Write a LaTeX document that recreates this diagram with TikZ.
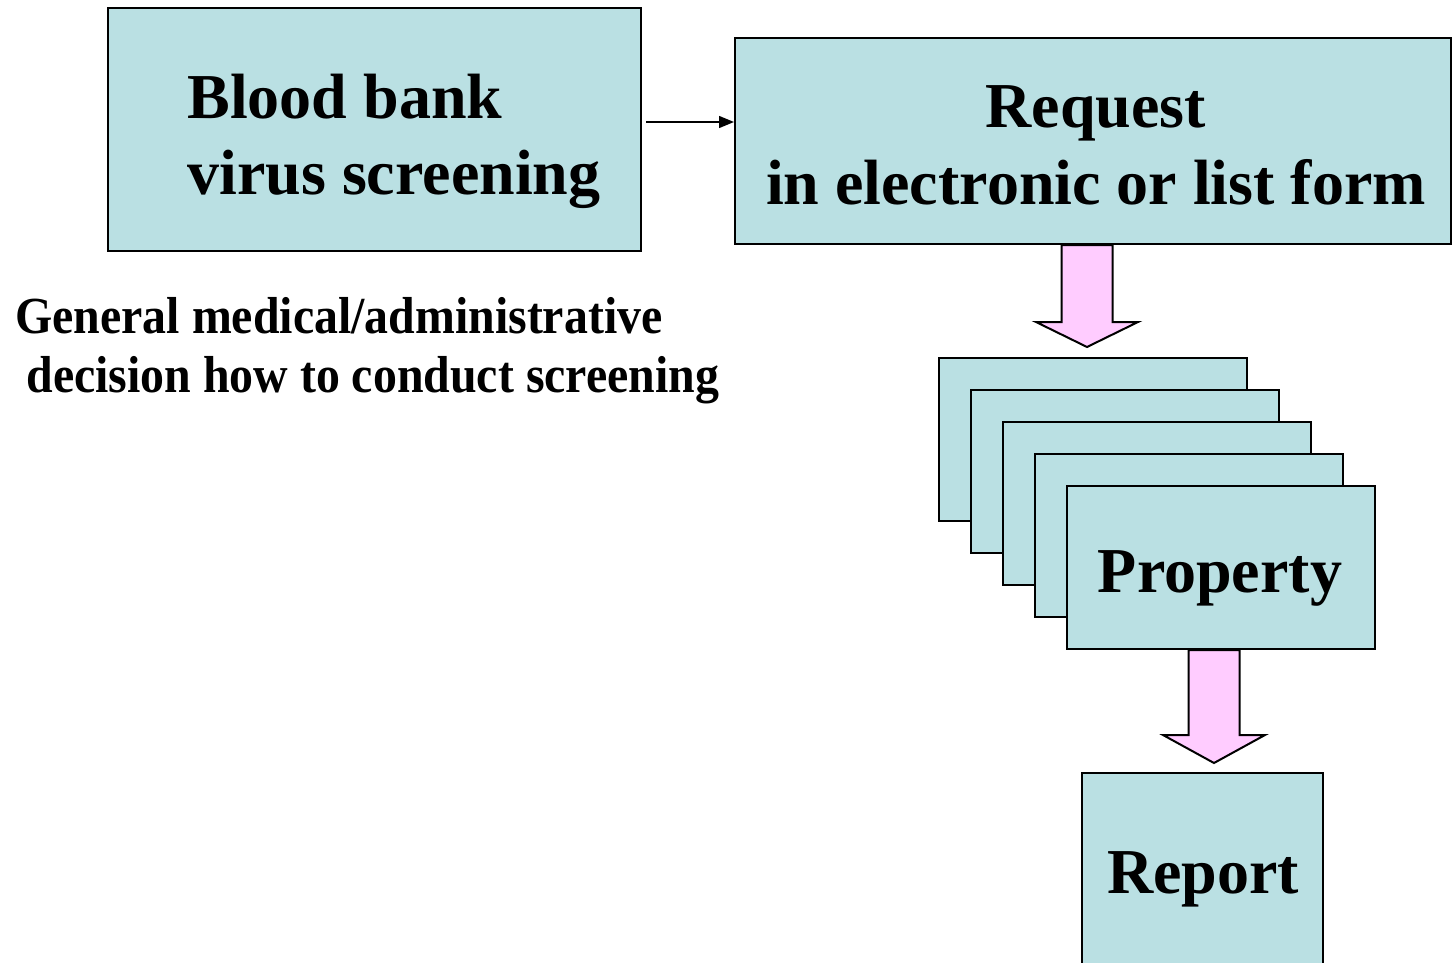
\documentclass[tikz,border=0pt]{standalone}
\usepackage{fontspec}
\setmainfont{Liberation Serif}
\usetikzlibrary{positioning,arrows.meta}
\definecolor{boxblue}{HTML}{BAE0E3}
\definecolor{arrowpink}{HTML}{FFCCFF}
\tikzset{
  box/.style={draw, fill=boxblue, line width=1pt, inner sep=0pt},
  bigtext/.style={font=\fontsize{32}{38.5}\selectfont\bfseries, inner sep=0pt},
  smalltext/.style={font=\fontsize{26}{29.5}\selectfont\bfseries, inner sep=0pt, xscale=0.92},
  fatarrow/.style={draw, fill=arrowpink, line width=1pt, line join=miter},
  link/.style={line width=0.7pt, -{Triangle[length=7.5pt,width=6pt]}},
  pics/fatdown/.style n args={3}{code={
    \draw[fatarrow] (-#1,0) -- (-#1,#2) -- (-2*#1,#2) -- (0,#3) -- (2*#1,#2) -- (#1,#2) -- (#1,0) -- cycle;
  }}
}
\begin{document}
\begin{tikzpicture}[x=0.5pt,y=-0.5pt]
  \clip (0,0) rectangle (1452,963);
  \fill[white] (0,0) rectangle (1452,963);
  \node[box, minimum width=266.5pt, minimum height=121.5pt] (blood) at (374.5,129.5) {};
  \node[box, minimum width=357.75pt, minimum height=103pt] (request) at (1092.75,141) {};
  \foreach \i in {1,...,5} {
    \node[box, minimum width=154pt, minimum height=81.5pt, anchor=north west]
      (stack\i) at (906+32*\i,325+32*\i) {};
  }
  \node[box, minimum width=120.5pt, minimum height=118.5pt] (report) at (1202.5,891.5) {};
  % texts
  \node[bigtext, align=left, anchor=base west] (bloodtxt) at (187,195) {Blood bank\\virus screening};
  \node[bigtext, align=center, anchor=base] (requesttxt) at (1096,205) {Request\\in electronic or list form};
  \node[bigtext, anchor=base] (propertytxt) at (1220,592) {Property};
  \node[bigtext, anchor=base] (reporttxt) at (1203,893) {Report};
  \node[smalltext, align=left, anchor=base west] (decision) at (15,392)
    {General medical/administrative\\\hspace{6pt}decision how to conduct screening};
  % connectors
  \coordinate (linkstart) at ([shift={(4,-7.5)}]blood.east);
  \draw[link] (linkstart) -- (linkstart -| request.west);
  \pic at ([xshift=-3pt]stack1.north |- request.south) {fatdown={25.5}{77}{102}};
  \pic at ([xshift=-3.5pt]stack5.south) {fatdown={25.5}{85}{113}};
\end{tikzpicture}
\end{document}
